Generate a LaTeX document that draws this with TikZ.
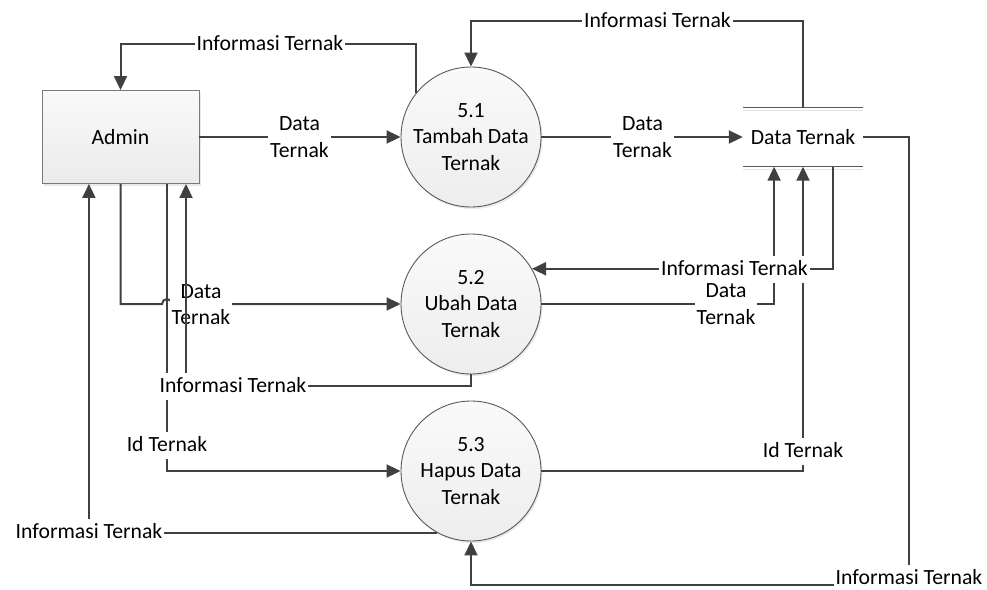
\documentclass[tikz,border=0pt]{standalone}
\usepackage{fontspec}
\setmainfont{Carlito}
\usetikzlibrary{arrows.meta,calc,shadows}
\definecolor{flowgray}{HTML}{404040}
\definecolor{edgegray}{HTML}{5A5A5A}
\definecolor{boxgray}{HTML}{7A7A7A}
\begin{document}
\begin{tikzpicture}[x=1pt,y=-1pt,
  font=\fontsize{21.7}{26.5}\selectfont,
  soft shadow/.style={drop shadow={fill=black!25, opacity=0.35, shadow xshift=1.5pt, shadow yshift=-2pt}},
  proc/.style={circle, draw=edgegray, line width=0.9pt, minimum size=140pt, inner sep=0pt,
    align=center, top color=white!98!black, bottom color=black!7, soft shadow},
  entity/.style={rectangle, draw=boxgray, line width=0.9pt, minimum width=157pt, minimum height=93pt,
    top color=white!98!black, bottom color=black!8, soft shadow},
  storebox/.style={inner sep=0pt, minimum width=120pt, minimum height=59pt},
  storeline/.style={draw=edgegray, line width=0.9pt},
  storeshade/.style={draw=black!10, line width=1pt},
  conn/.style={draw=flowgray, line width=2pt},
  flow/.style={conn, -{Triangle[length=14pt,width=13pt]}},
  lbl/.style={fill=white, inner xsep=2pt, inner ysep=3pt, text height=17pt, text depth=4pt},
  lbltwo/.style={fill=white, inner xsep=2pt, inner ysep=2pt, align=center}]

\useasboundingbox (0,0) rectangle (987,589);

% entity, processes and data store
\node[entity] (admin) at (120.5,137) {Admin};
\node[proc] (p1) at (471,137) {5.1\\Tambah Data\\Ternak};
\node[proc] (p2) at (471,304) {5.2\\Ubah Data\\Ternak};
\node[proc] (p3) at (471,471) {5.3\\Hapus Data\\Ternak};
\node[storebox] (store) at (803,137) {Data Ternak};
\draw[storeshade] ($(store.north west)+(0,3)$) -- ($(store.north east)+(0,3)$);
\draw[storeshade] ($(store.south west)+(0,3)$) -- ($(store.south east)+(0,3)$);
\draw[storeline] (store.north west) -- (store.north east);
\draw[storeline] (store.south west) -- (store.south east);

% turning points
\coordinate (t1) at (0,44);
\coordinate (t4) at (0,21);
\coordinate (hop1) at (162,304);
\coordinate (t6) at (186,386);
\coordinate (t12) at (909,585);

% Admin -> 5.2 (with a hop over the line to 5.3)
\draw[flow] (admin.south) |- (hop1) arc[start angle=180, end angle=0, radius=5pt] -- (p2.west);
\node[lbltwo] (l5) at (201,304.5) {Data\\Ternak};

% flows between Admin and the processes
\draw[flow] (p1.141) |- (t1 -| admin.north) -- (admin.north);
\node[lbl] (l1) at (270,44) {Informasi Ternak};
\draw[flow] (admin.east) -- (p1.west);
\node[lbltwo] (l2) at (299.5,137) {Data\\Ternak};
\draw[flow] ($(admin.south west)!0.796!(admin.south east)$) |- (p3.west);
\draw[flow] (p2.south) |- (t6) -- (t6 |- admin.south);
\draw[flow] (p3.241) -| ($(admin.south west)!0.30!(admin.south east)$);
\node[lbl] (l6) at (233,386) {Informasi Ternak};
\node[lbl] (l7) at (167,445) {Id Ternak};
\node[lbl] (l8) at (89,532) {Informasi Ternak};

% flows between the processes and the data store
\draw[flow] (p1.east) -- (store.west);
\node[lbltwo] (l3) at (642.5,137) {Data\\Ternak};
\draw[flow] (store.north) |- (t4 -| p1.north) -- (p1.north);
\node[lbl] (l4) at (657.5,21) {Informasi Ternak};
\draw[flow] ($(store.south west)!0.75!(store.south east)$) |- (p2.30);
\draw[flow] (p2.east) -| ($(store.south west)!0.26!(store.south east)$);
\draw[flow] (p3.east) -| (store.south);
\node[lbl] (l9) at (734.5,269) {Informasi Ternak};
\node[lbltwo] (l10) at (726,304) {Data\\Ternak};
\node[lbl] (l11) at (803,451) {Id Ternak};
\draw[flow] (store.east) -| (t12) -| (p3.south);
\node[lbl] (l12) at (909,578) {Informasi Ternak};

\end{tikzpicture}
\end{document}
